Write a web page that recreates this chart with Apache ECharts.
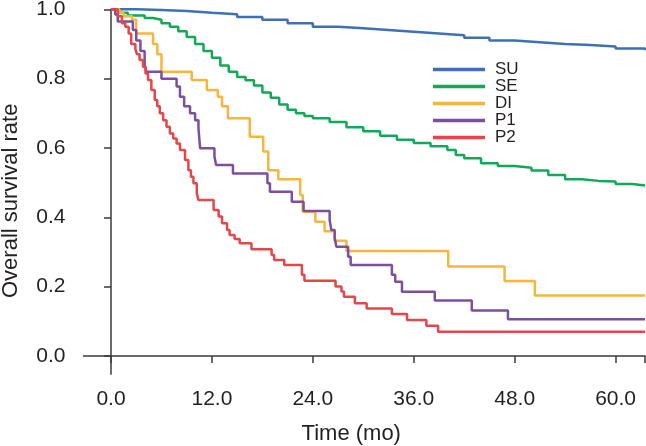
<!DOCTYPE html>
<html>
<head>
<meta charset="utf-8">
<script src="https://cdn.jsdelivr.net/npm/echarts@6/dist/echarts.min.js"></script>
<style>
html,body{margin:0;padding:0;background:#fff;}
#c{width:646px;height:446px;}
</style>
</head>
<body>
<div id="c"></div>
<script>
// ---- Data (time in months, survival probability) ----
var seriesNames = ['SU', 'SE', 'DI', 'P1', 'P2'];
var xTicks = [0, 12, 24, 36, 48, 60];
var yTicks = [0, 0.2, 0.4, 0.6, 0.8, 1.0];

var suTime = [0, 3, 6, 9, 12, 15, 18, 21, 24, 27, 30, 33, 36, 39, 42, 45, 48, 51, 54, 57, 60, 63.5];
var suSurv = [1.0, 0.998, 0.995, 0.99, 0.986, 0.978, 0.97, 0.96, 0.95, 0.945, 0.94, 0.935, 0.93, 0.925, 0.918, 0.91, 0.905, 0.9, 0.897, 0.893, 0.887, 0.882];

var seTime = [0, 1, 2, 4, 5, 6, 7, 8, 9, 10, 11, 12, 13, 14, 15, 16, 17, 18, 19, 20, 21, 22, 23, 24, 26, 28, 30, 32, 34, 36, 38, 40, 41, 42, 44, 46, 48, 50, 52, 54, 56, 58, 60, 62, 63.5];
var seSurv = [1.0, 0.99, 0.982, 0.975, 0.97, 0.96, 0.95, 0.937, 0.92, 0.9, 0.88, 0.86, 0.838, 0.82, 0.805, 0.795, 0.78, 0.76, 0.745, 0.725, 0.71, 0.7, 0.692, 0.686, 0.675, 0.66, 0.648, 0.635, 0.624, 0.614, 0.605, 0.594, 0.58, 0.57, 0.556, 0.548, 0.543, 0.535, 0.522, 0.51, 0.505, 0.503, 0.496, 0.492, 0.49];

var diTime = [0, 1, 1.5, 2.5, 3, 5, 5.5, 6, 9.6, 11.4, 12.7, 13.2, 13.9, 16.5, 18.1, 18.7, 19.9, 22.5, 22.8, 24.3, 25.4, 26.6, 28.0, 40.1, 46.8, 50.4, 63.5];
var diSurv = [1.0, 0.99, 0.98, 0.97, 0.93, 0.9, 0.87, 0.82, 0.796, 0.767, 0.748, 0.72, 0.686, 0.632, 0.59, 0.536, 0.51, 0.464, 0.416, 0.387, 0.36, 0.332, 0.303, 0.258, 0.216, 0.174, 0.174];

var p1Time = [0, 0.5, 0.8, 2.6, 3.0, 3.5, 4.0, 4.2, 6.0, 7.8, 8.2, 8.7, 9.4, 10.0, 10.4, 10.6, 12.3, 12.5, 14.5, 18.6, 18.9, 21.5, 22.9, 26.0, 26.2, 26.6, 26.8, 28.2, 28.5, 33.4, 33.8, 34.6, 38.5, 42.9, 47.2, 63.5];
var p1Surv = [1.0, 0.985, 0.965, 0.94, 0.91, 0.88, 0.84, 0.82, 0.8, 0.777, 0.748, 0.72, 0.7, 0.68, 0.657, 0.599, 0.575, 0.551, 0.526, 0.498, 0.474, 0.445, 0.418, 0.392, 0.363, 0.34, 0.315, 0.286, 0.262, 0.234, 0.214, 0.185, 0.16, 0.131, 0.106, 0.106];

var p2Time = [0, 0.8, 1.3, 1.7, 2.1, 2.4, 2.9, 3.1, 3.4, 3.8, 4.1, 4.4, 4.8, 5.2, 5.5, 5.8, 6.2, 6.6, 7.0, 7.4, 7.8, 8.2, 8.8, 9.2, 9.5, 9.8, 10.2, 10.4, 12.2, 12.8, 13.2, 13.8, 14.1, 14.7, 15.3, 16.7, 19.1, 19.4, 20.6, 22.7, 23.0, 26.7, 27.4, 27.7, 29.0, 30.4, 33.4, 35.2, 37.5, 38.9, 63.5];
var p2Surv = [1.0, 0.98, 0.96, 0.95, 0.93, 0.9, 0.885, 0.87, 0.854, 0.834, 0.815, 0.796, 0.767, 0.738, 0.72, 0.7, 0.68, 0.661, 0.642, 0.627, 0.613, 0.594, 0.565, 0.536, 0.517, 0.498, 0.469, 0.45, 0.421, 0.402, 0.383, 0.363, 0.349, 0.337, 0.325, 0.308, 0.291, 0.277, 0.262, 0.234, 0.217, 0.2, 0.186, 0.171, 0.152, 0.137, 0.121, 0.104, 0.087, 0.07, 0.07];

var colors = ['#3f6fb4', '#12a858', '#f6b63e', '#7b4f9e', '#e3474a'];

function pairs(t, s) { return t.map(function (v, i) { return [v, s[i]]; }); }
var allData = [pairs(suTime, suSurv), pairs(seTime, seSurv), pairs(diTime, diSurv), pairs(p1Time, p1Surv), pairs(p2Time, p2Surv)];

var FONT = 'Liberation Sans, Arial, Helvetica, sans-serif';
var axisColor = '#3a3a3a';
var textColor = '#231f20';
var xMin = -3.27, xMax = 63.5, yMin = -0.053, yMax = 1.0;

var chart = echarts.init(document.getElementById('c'), null, { renderer: 'canvas' });
chart.setOption({
  animation: false,
  backgroundColor: '#ffffff',
  color: colors,
  grid: { left: 83.5, right: 1, top: 9.3, bottom: 71.7, containLabel: false, outerBoundsMode: 'none' },
  legend: {
    data: seriesNames,
    orient: 'vertical',
    left: 433, top: 61,
    icon: 'rect', itemWidth: 52, itemHeight: 3.5, itemGap: 0,
    selectedMode: false,
    padding: 0,
    textStyle: { fontFamily: FONT, fontSize: 17, color: textColor, lineHeight: 15.5, padding: [0, 0, 0, 5] }
  },
  xAxis: {
    type: 'value', min: xMin, max: xMax,
    name: 'Time (mo)', nameLocation: 'middle', nameGap: 49,
    nameTextStyle: { fontFamily: FONT, fontSize: 22, color: textColor, padding: [0, 26, 0, 0] },
    axisLine: { show: true, lineStyle: { color: axisColor, width: 1.5 } },
    axisTick: { show: true, length: 7, lineStyle: { color: axisColor, width: 1.5 }, customValues: xTicks.concat([xMax]) },
    axisLabel: { customValues: xTicks, margin: 14, fontFamily: FONT, fontSize: 21, color: textColor,
      formatter: function (v) { return v.toFixed(1); } },
    splitLine: { show: false }
  },
  yAxis: {
    type: 'value', min: yMin, max: yMax,
    name: 'Overall survival rate', nameLocation: 'middle', nameGap: 62, nameRotate: 90,
    nameTextStyle: { fontFamily: FONT, fontSize: 22, color: textColor, padding: [0, 18, 0, 0] },
    axisLine: { show: true, lineStyle: { color: axisColor, width: 1.5 } },
    axisTick: { show: true, length: 7, lineStyle: { color: axisColor, width: 1.5 }, customValues: yTicks },
    axisLabel: { customValues: yTicks, margin: 18, fontFamily: FONT, fontSize: 21, color: textColor,
      formatter: function (v) { return v.toFixed(1); } },
    splitLine: { show: false }
  },
  series: seriesNames.map(function (n, i) {
    return {
      name: n, type: 'line', step: 'end', data: allData[i],
      showSymbol: false, symbol: 'none',
      lineStyle: { width: 2.5, color: colors[i] },
      itemStyle: { color: colors[i] },
      z: 2 + i
    };
  })
});
</script>
</body>
</html>
